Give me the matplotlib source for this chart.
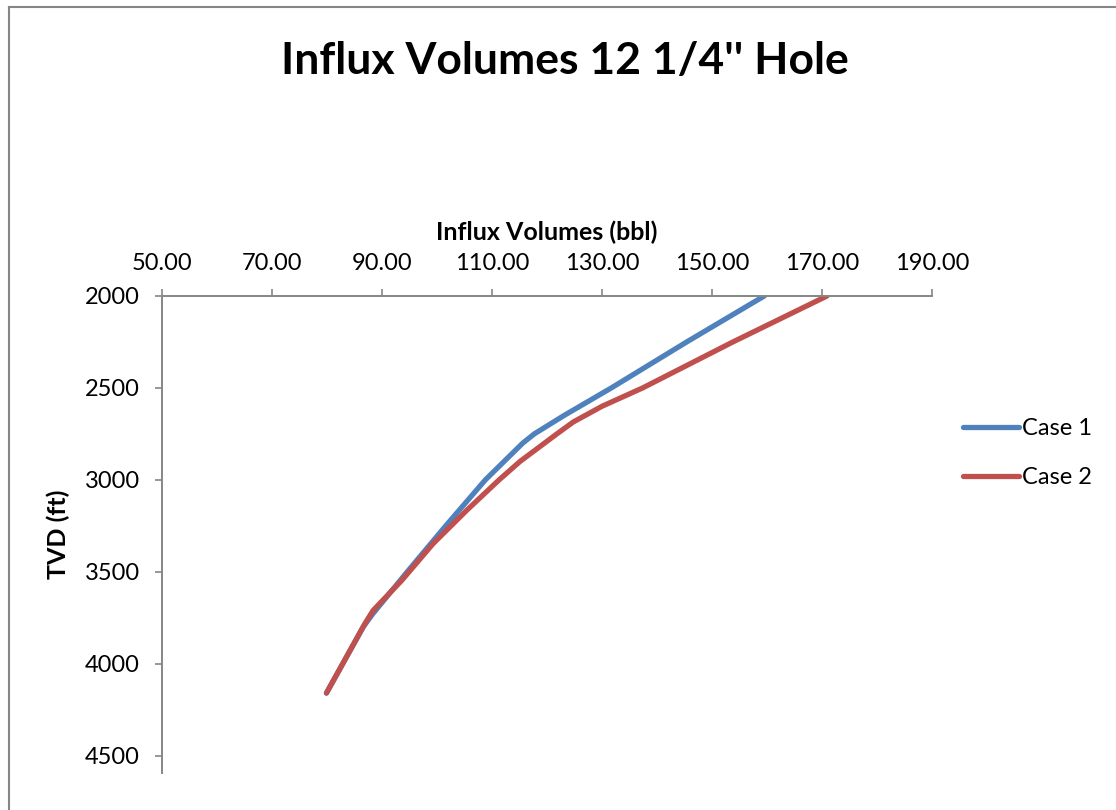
import matplotlib.pyplot as plt
from matplotlib.lines import Line2D

# influx volume vs depth
tvd_case1 = [2000, 2250, 2500, 2650, 2700, 2750, 2800, 2850, 3000, 3250, 3500, 3730, 3800, 4160]
vol_case1 = [159.5, 145.4, 131.7, 123.1, 120.4, 117.7, 115.6, 113.9, 108.8, 101.6, 94.6, 88.3, 86.6, 79.9]

tvd_case2 = [2000, 2250, 2500, 2600, 2685, 2750, 2900, 3000, 3166, 3347, 3547, 3710, 3782, 4160]
vol_case2 = [170.9, 153.8, 137.4, 130.0, 124.8, 121.8, 115.1, 111.3, 105.4, 99.3, 93.6, 88.4, 86.9, 79.9]

xticks = [50, 70, 90, 110, 130, 150, 170, 190]
yticks = [2000, 2500, 3000, 3500, 4000, 4500]

plt.rcParams['font.family'] = ['Lato', 'DejaVu Sans']
grey = '#868686'

fig = plt.figure(figsize=(11.16, 8.1), dpi=100)
ax = fig.add_axes([162/1116, 1 - 773/810, 770/1116, 477/810])

ax.plot(vol_case1, tvd_case1, color='#4F81BD', lw=3.8, solid_capstyle='round',
        solid_joinstyle='round', label='Case 1')
ax.plot(vol_case2, tvd_case2, color='#C0504D', lw=3.8, solid_capstyle='round',
        solid_joinstyle='round', label='Case 2')

ax.set_xlim(50, 190)
ax.set_ylim(4595, 2000)
ax.set_xticks(xticks)
ax.set_xticklabels([f"{v:.2f}" for v in xticks])
ax.set_yticks(yticks)
ax.xaxis.tick_top()
ax.xaxis.set_label_position('top')

for s in ['right', 'bottom']:
    ax.spines[s].set_visible(False)
for s in ['left', 'top']:
    ax.spines[s].set_color(grey)
    ax.spines[s].set_linewidth(1.4)
ax.tick_params(axis='both', colors=grey, labelcolor='black', length=5, width=1.2,
               labelsize=17, pad=11)

ax.set_xlabel("Influx Volumes (bbl)", fontsize=18, fontweight='bold', labelpad=9)
ax.set_ylabel("TVD (ft)", fontsize=18, fontweight='bold')
ax.yaxis.set_label_coords(-0.119, 0.5)

fig.text(565/1116, 1 - 61/810, "Influx Volumes 12 1/4'' Hole", fontsize=32,
         fontweight='bold', ha='center', va='center')

fig.legend(handles=ax.get_lines(), loc='center left',
           bbox_to_anchor=(951/1116, 1 - 453/810), frameon=False, fontsize=17,
           handlelength=2.4, handletextpad=0.1, labelspacing=1.2, borderpad=0)

# chart-area border
fig.add_artist(Line2D([9/1116, 9/1116], [0, 1 - 7/810], transform=fig.transFigure,
                      color=grey, lw=1.5))
fig.add_artist(Line2D([9/1116, 1], [1 - 7/810, 1 - 7/810], transform=fig.transFigure,
                      color=grey, lw=1.5))

fig.savefig("out.png", dpi=100, facecolor='white')
